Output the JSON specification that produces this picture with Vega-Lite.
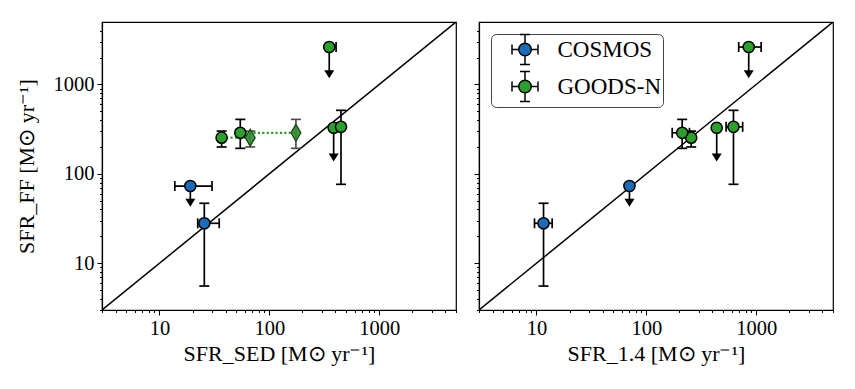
{
  "$schema": "https://vega.github.io/schema/vega-lite/v6.json",
  "padding": {"left": 14, "top": 20, "right": 5, "bottom": 5},
  "background": "white",
  "datasets": {
    "pts": [
      {"p": "L", "s": "COSMOS", "x": 19.1, "y": 73.1, "xlo": 13.8, "xhi": 30.1, "ylim": 47.5},
      {"p": "L", "s": "COSMOS", "x": 25.6, "y": 28.0, "xlo": 22.3, "xhi": 35.0, "ylo": 5.56, "yhi": 46.9},
      {"p": "L", "s": "GOODS-N", "x": 36.8, "y": 254, "ylo": 200, "yhi": 301},
      {"p": "L", "s": "GOODS-N", "x": 54.4, "y": 288, "ylo": 193, "yhi": 407},
      {"p": "L", "s": "GOODS-N", "x": 351, "y": 2624, "xlo": 330, "xhi": 405, "ylim": 1300},
      {"p": "L", "s": "GOODS-N", "x": 385, "y": 328, "ylim": 152},
      {"p": "L", "s": "GOODS-N", "x": 449, "y": 336, "ylo": 76.4, "yhi": 514},
      {"p": "R", "s": "COSMOS", "x": 70.2, "y": 73.1, "ylim": 47.5},
      {"p": "R", "s": "COSMOS", "x": 11.6, "y": 28.0, "xlo": 9.6, "xhi": 13.9, "ylo": 5.56, "yhi": 46.9},
      {"p": "R", "s": "GOODS-N", "x": 256, "y": 254, "ylo": 200, "yhi": 301},
      {"p": "R", "s": "GOODS-N", "x": 212, "y": 288, "xlo": 172, "xhi": 247, "ylo": 193, "yhi": 407},
      {"p": "R", "s": "GOODS-N", "x": 855, "y": 2624, "xlo": 693, "xhi": 1109, "ylim": 1300},
      {"p": "R", "s": "GOODS-N", "x": 437, "y": 328, "ylim": 152},
      {"p": "R", "s": "GOODS-N", "x": 621, "y": 336, "xlo": 532, "xhi": 753, "ylo": 76.4, "yhi": 514}
    ],
    "dia": [
      {"x": 67.0, "y": 254, "ylo": 200, "yhi": 301},
      {"x": 174.6, "y": 288, "ylo": 193, "yhi": 407}
    ],
    "dots": [
      {"seg": "a", "x": 36.8, "y": 254},
      {"seg": "a", "x": 67.0, "y": 254},
      {"seg": "b", "x": 54.4, "y": 288},
      {"seg": "b", "x": 174.6, "y": 288}
    ],
    "diag": [{"v": 3}, {"v": 5000}]
  },
  "resolve": {"scale": {"color": "independent"}, "legend": {"color": "independent"}},
  "hconcat": [
    {
      "width": 354,
      "height": 288,
      "layer": [
        {
          "data": {"name": "diag"},
          "mark": {"type": "line", "color": "black", "strokeWidth": 1.5, "clip": true},
          "encoding": {
            "x": {"field": "v", "type": "quantitative", "scale": {"type": "log", "domain": [3, 5000], "nice": false},
              "axis": {"title": "SFR_SED [M⊙ yr⁻¹]", "titlePadding": 5,
                "values": [3,4,5,6,7,8,9,10,20,30,40,50,60,70,80,90,100,200,300,400,500,600,700,800,900,1000,2000,3000,4000,5000],
                "labelExpr": "datum.value==10?'10':datum.value==100?'100':datum.value==1000?'1000':''",
                "tickSize": {"condition": {"test": "datum.value==10||datum.value==100||datum.value==1000", "value": 5}, "value": 2.5}}},
            "y": {"field": "v", "type": "quantitative", "scale": {"type": "log", "domain": [3, 5000], "nice": false},
              "axis": {"title": "SFR_FF [M⊙ yr⁻¹]", "titlePadding": 15,
                "values": [3,4,5,6,7,8,9,10,20,30,40,50,60,70,80,90,100,200,300,400,500,600,700,800,900,1000,2000,3000,4000],
                "labelExpr": "datum.value==10?'10':datum.value==100?'100':datum.value==1000?'1000':''",
                "tickSize": {"condition": {"test": "datum.value==10||datum.value==100||datum.value==1000", "value": 5}, "value": 2.5}}}
          }
        },
        {
          "data": {"name": "dots"},
          "mark": {"type": "line", "color": "#2ca02c", "strokeWidth": 2.2, "strokeDash": [2.2, 2.2]},
          "encoding": {
            "x": {"field": "x", "type": "quantitative"},
            "y": {"field": "y", "type": "quantitative"},
            "detail": {"field": "seg"}
          }
        },
        {
          "data": {"name": "dia"},
          "mark": {"type": "rule", "color": "#4a4a4a", "strokeWidth": 1.6},
          "encoding": {
            "x": {"field": "x", "type": "quantitative"},
            "y": {"field": "ylo", "type": "quantitative"},
            "y2": {"field": "yhi"}
          }
        },
        {
          "data": {"name": "dia"},
          "transform": [{"fold": ["ylo", "yhi"]}],
          "mark": {"type": "point", "shape": "M-1,0H1", "size": 100, "filled": false, "stroke": "#4a4a4a", "strokeWidth": 1.6, "opacity": 1},
          "encoding": {
            "x": {"field": "x", "type": "quantitative"},
            "y": {"field": "value", "type": "quantitative"}
          }
        },
        {
          "data": {"name": "dia"},
          "mark": {"type": "point", "shape": "M0,-1L0.58,0L0,1L-0.58,0Z", "size": 289, "filled": true, "fill": "#2f8f2f", "fillOpacity": 0.9, "stroke": "#1c4a1c", "strokeWidth": 1.3, "opacity": 1},
          "encoding": {
            "x": {"field": "x", "type": "quantitative"},
            "y": {"field": "y", "type": "quantitative"}
          }
        },
        {
          "data": {"name": "pts"},
          "transform": [{"filter": "datum.p=='L' && isValid(datum.ylo)"}],
          "mark": {"type": "rule", "color": "black", "strokeWidth": 1.7},
          "encoding": {
            "x": {"field": "x", "type": "quantitative"},
            "y": {"field": "ylo", "type": "quantitative"},
            "y2": {"field": "yhi"}
          }
        },
        {
          "data": {"name": "pts"},
          "transform": [{"filter": "datum.p=='L'"}, {"fold": ["ylo", "yhi"]}, {"filter": "isValid(datum.value)"}],
          "mark": {"type": "point", "shape": "M-1,0H1", "size": 100, "filled": false, "stroke": "black", "strokeWidth": 1.7, "opacity": 1},
          "encoding": {
            "x": {"field": "x", "type": "quantitative"},
            "y": {"field": "value", "type": "quantitative"}
          }
        },
        {
          "data": {"name": "pts"},
          "transform": [{"filter": "datum.p=='L' && isValid(datum.xlo)"}],
          "mark": {"type": "rule", "color": "black", "strokeWidth": 1.7},
          "encoding": {
            "x": {"field": "xlo", "type": "quantitative"},
            "x2": {"field": "xhi"},
            "y": {"field": "y", "type": "quantitative"}
          }
        },
        {
          "data": {"name": "pts"},
          "transform": [{"filter": "datum.p=='L'"}, {"fold": ["xlo", "xhi"]}, {"filter": "isValid(datum.value)"}],
          "mark": {"type": "point", "shape": "M0,-1V1", "size": 100, "filled": false, "stroke": "black", "strokeWidth": 1.7, "opacity": 1},
          "encoding": {
            "x": {"field": "value", "type": "quantitative"},
            "y": {"field": "y", "type": "quantitative"}
          }
        },
        {
          "data": {"name": "pts"},
          "transform": [{"filter": "datum.p=='L' && isValid(datum.ylim)"}],
          "mark": {"type": "rule", "color": "black", "strokeWidth": 1.7},
          "encoding": {
            "x": {"field": "x", "type": "quantitative"},
            "y": {"field": "y", "type": "quantitative"},
            "y2": {"field": "ylim"}
          }
        },
        {
          "data": {"name": "pts"},
          "transform": [{"filter": "datum.p=='L' && isValid(datum.ylim)"}],
          "mark": {"type": "point", "shape": "M-1,-0.8L1,-0.8L0,0.8Z", "size": 100, "filled": true, "fill": "black", "strokeWidth": 0, "opacity": 1},
          "encoding": {
            "x": {"field": "x", "type": "quantitative"},
            "y": {"field": "ylim", "type": "quantitative"}
          }
        },
        {
          "data": {"name": "pts"},
          "transform": [{"filter": "datum.p=='L'"}],
          "mark": {"type": "point", "shape": "circle", "size": 125, "filled": true, "stroke": "black", "strokeWidth": 1.5, "opacity": 1},
          "encoding": {
            "x": {"field": "x", "type": "quantitative"},
            "y": {"field": "y", "type": "quantitative"},
            "color": {"field": "s", "type": "nominal", "scale": {"domain": ["COSMOS", "GOODS-N"], "range": ["#1b6cb8", "#2ca02c"]}, "legend": null}
          }
        }
      ]
    },
    {
      "width": 354,
      "height": 288,
      "layer": [
        {
          "data": {"name": "diag"},
          "mark": {"type": "line", "color": "black", "strokeWidth": 1.5, "clip": true},
          "encoding": {
            "x": {"field": "v", "type": "quantitative", "scale": {"type": "log", "domain": [3, 5000], "nice": false},
              "axis": {"title": "SFR_1.4 [M⊙ yr⁻¹]", "titlePadding": 5,
                "values": [3,4,5,6,7,8,9,10,20,30,40,50,60,70,80,90,100,200,300,400,500,600,700,800,900,1000,2000,3000,4000,5000],
                "labelExpr": "datum.value==10?'10':datum.value==100?'100':datum.value==1000?'1000':''",
                "tickSize": {"condition": {"test": "datum.value==10||datum.value==100||datum.value==1000", "value": 5}, "value": 2.5}}},
            "y": {"field": "v", "type": "quantitative", "scale": {"type": "log", "domain": [3, 5000], "nice": false},
              "axis": {"title": null, "labels": false,
                "values": [3,4,5,6,7,8,9,10,20,30,40,50,60,70,80,90,100,200,300,400,500,600,700,800,900,1000,2000,3000,4000],
                "tickSize": {"condition": {"test": "datum.value==10||datum.value==100||datum.value==1000", "value": 5}, "value": 2.5}}}
          }
        },
        {
          "data": {"name": "pts"},
          "transform": [{"filter": "datum.p=='R' && isValid(datum.ylo)"}],
          "mark": {"type": "rule", "color": "black", "strokeWidth": 1.7},
          "encoding": {
            "x": {"field": "x", "type": "quantitative"},
            "y": {"field": "ylo", "type": "quantitative"},
            "y2": {"field": "yhi"}
          }
        },
        {
          "data": {"name": "pts"},
          "transform": [{"filter": "datum.p=='R'"}, {"fold": ["ylo", "yhi"]}, {"filter": "isValid(datum.value)"}],
          "mark": {"type": "point", "shape": "M-1,0H1", "size": 100, "filled": false, "stroke": "black", "strokeWidth": 1.7, "opacity": 1},
          "encoding": {
            "x": {"field": "x", "type": "quantitative"},
            "y": {"field": "value", "type": "quantitative"}
          }
        },
        {
          "data": {"name": "pts"},
          "transform": [{"filter": "datum.p=='R' && isValid(datum.xlo)"}],
          "mark": {"type": "rule", "color": "black", "strokeWidth": 1.7},
          "encoding": {
            "x": {"field": "xlo", "type": "quantitative"},
            "x2": {"field": "xhi"},
            "y": {"field": "y", "type": "quantitative"}
          }
        },
        {
          "data": {"name": "pts"},
          "transform": [{"filter": "datum.p=='R'"}, {"fold": ["xlo", "xhi"]}, {"filter": "isValid(datum.value)"}],
          "mark": {"type": "point", "shape": "M0,-1V1", "size": 100, "filled": false, "stroke": "black", "strokeWidth": 1.7, "opacity": 1},
          "encoding": {
            "x": {"field": "value", "type": "quantitative"},
            "y": {"field": "y", "type": "quantitative"}
          }
        },
        {
          "data": {"name": "pts"},
          "transform": [{"filter": "datum.p=='R' && isValid(datum.ylim)"}],
          "mark": {"type": "rule", "color": "black", "strokeWidth": 1.7},
          "encoding": {
            "x": {"field": "x", "type": "quantitative"},
            "y": {"field": "y", "type": "quantitative"},
            "y2": {"field": "ylim"}
          }
        },
        {
          "data": {"name": "pts"},
          "transform": [{"filter": "datum.p=='R' && isValid(datum.ylim)"}],
          "mark": {"type": "point", "shape": "M-1,-0.8L1,-0.8L0,0.8Z", "size": 100, "filled": true, "fill": "black", "strokeWidth": 0, "opacity": 1},
          "encoding": {
            "x": {"field": "x", "type": "quantitative"},
            "y": {"field": "ylim", "type": "quantitative"}
          }
        },
        {
          "data": {"name": "pts"},
          "transform": [{"filter": "datum.p=='R'"}],
          "mark": {"type": "point", "shape": "circle", "size": 125, "filled": true, "stroke": "black", "strokeWidth": 1.5, "opacity": 1},
          "encoding": {
            "x": {"field": "x", "type": "quantitative"},
            "y": {"field": "y", "type": "quantitative"},
            "color": {"field": "s", "type": "nominal", "scale": {"domain": ["COSMOS", "GOODS-N"], "range": ["#1b6cb8", "#2ca02c"]},
              "legend": {"orient": "top-left", "offset": 12, "title": null,
                "symbolType": "M-1.04,0H-0.5M0.5,0H1.04M-1.04,-0.4V0.4M1.04,-0.4V0.4M0,-1.2V-0.5M0,0.5V1.2M-0.4,-1.2H0.4M-0.4,1.2H0.4M0.5,0A0.5,0.5,0,1,1,-0.5,0A0.5,0.5,0,1,1,0.5,0Z",
                "symbolSize": 625, "symbolStrokeColor": "black", "symbolStrokeWidth": 1.5, "symbolOpacity": 1, "symbolOffset": 18.5,
                "labelFont": "Liberation Serif", "labelFontSize": 23, "labelColor": "black", "labelOffset": 19,
                "strokeColor": "#444444", "cornerRadius": 5, "padding": 2, "fillColor": "white", "rowPadding": 0}}
          }
        }
      ]
    }
  ],
  "config": {
    "font": "Liberation Serif",
    "view": {"stroke": "black", "strokeWidth": 1.2},
    "concat": {"spacing": 14},
    "axis": {"grid": false, "domainColor": "black", "domainWidth": 1.2, "tickColor": "black", "tickWidth": 1,
      "labelFont": "Liberation Serif", "labelFontSize": 20.5, "labelColor": "black", "labelPadding": 3, "labelFlush": false, "labelOverlap": false,
      "titleFont": "Liberation Serif", "titleFontSize": 22, "titleFontWeight": "normal", "titleColor": "black"}
  }
}
